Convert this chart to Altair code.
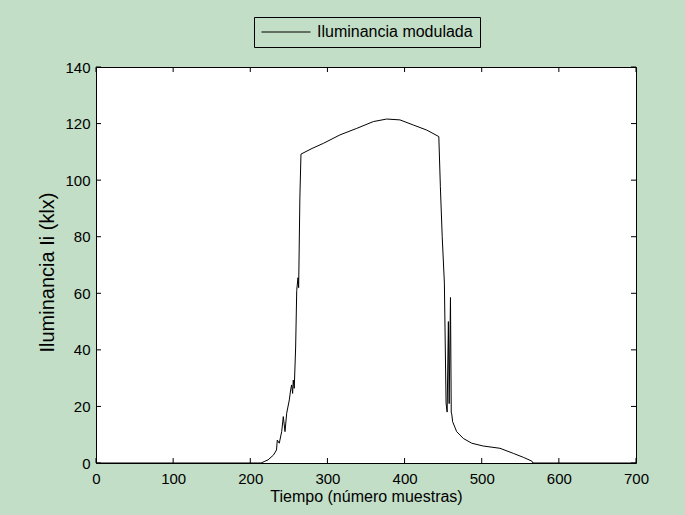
import altair as alt
import pandas as pd

# Time (sample number) and modulated illuminance (klx)
tiempo = [0, 214, 218, 223, 230, 234, 235, 237.6, 240.7, 242.8, 245, 247.2, 250.6,
          252.3, 253.6, 254.9, 255.7, 257, 258.8, 260.2, 261.8, 262.7, 264.3, 265.7,
          280, 294.7, 316.3, 338, 359.5, 376.8, 394, 411.3, 428.7, 444.4,
          446.4, 448.8, 451.6, 453.8, 455.2, 456.8, 457.8, 459.5, 460.5, 461.3, 462.3,
          467.5, 476.1, 487, 502, 523.7, 541, 554, 564.8, 566.5, 700]
iluminancia = [0, 0, 0.5, 1.1, 2.8, 4.6, 8.1, 7.0, 11.1, 16.4, 11.1, 17.6, 22.3,
               25.8, 27.6, 24.6, 29.3, 26.4, 41.0, 61.0, 65.5, 62.0, 94.0, 109.2,
               111.2, 113.0, 116.0, 118.3, 120.7, 121.6, 121.3, 119.5, 117.7, 115.4,
               97.7, 80.0, 63.6, 21.2, 18.0, 50.0, 21.0, 58.5, 18.0, 17.0, 14.6,
               11.1, 8.7, 7.0, 6.0, 5.2, 3.4, 2.0, 0.7, 0, 0]
serie = "Iluminancia modulada"

x_ticks = [0, 100, 200, 300, 400, 500, 600, 700]
y_ticks = [0, 20, 40, 60, 80, 100, 120, 140]

W, H = 540, 396
FONT = "Liberation Sans"
BG = "#c2dec6"

df = pd.DataFrame({"t": tiempo, "v": iluminancia, "serie": [serie] * len(tiempo)})
dfx = pd.DataFrame({"xt": x_ticks})
dfy = pd.DataFrame({"yt": y_ticks})

xscale = alt.Scale(domain=[0, 700], nice=False, zero=False)
yscale = alt.Scale(domain=[0, 140], nice=False, zero=False)

line = alt.Chart(df).mark_line(color="black", strokeWidth=1, clip=False).encode(
    x=alt.X("t:Q", scale=xscale,
            axis=alt.Axis(values=x_ticks, title="Tiempo (número muestras)",
                          labelFontSize=15, labelFont=FONT, labelColor="black",
                          labelPadding=8, labelFlush=False, tickSize=0, domain=False,
                          grid=False, titleFont=FONT, titleFontSize=16,
                          titleFontWeight="normal", titleColor="black",
                          titleBaseline="alphabetic", titleY=38, titleX=W / 2)),
    y=alt.Y("v:Q", scale=yscale,
            axis=alt.Axis(values=y_ticks, title="Iluminancia Ii (klx)",
                          labelFontSize=15, labelFont=FONT, labelColor="black",
                          labelPadding=6, labelFlush=False, tickSize=0, domain=False,
                          grid=False, titleFont=FONT, titleFontSize=20,
                          titleFontWeight="normal", titleColor="black",
                          titleBaseline="alphabetic", titleX=-43, titleY=205,
                          titleAngle=270)),
    color=alt.Color("serie:N", scale=alt.Scale(range=["black"]),
                    legend=alt.Legend(title=None, orient="none", legendX=158, legendY=-50,
                                      strokeColor="black", padding=7, clipHeight=16,
                                      symbolType="stroke", symbolSize=2401,
                                      symbolStrokeWidth=1, labelFontSize=16,
                                      labelFont=FONT, labelColor="black",
                                      labelOffset=6)),
)

tick_b = alt.Chart(dfx).mark_rule(color="black", strokeWidth=1).encode(
    x=alt.X("xt:Q", scale=xscale), y=alt.value(H), y2=alt.value(H - 5))
tick_t = alt.Chart(dfx).mark_rule(color="black", strokeWidth=1).encode(
    x=alt.X("xt:Q", scale=xscale), y=alt.value(0), y2=alt.value(5))
tick_l = alt.Chart(dfy).mark_rule(color="black", strokeWidth=1).encode(
    y=alt.Y("yt:Q", scale=yscale), x=alt.value(0), x2=alt.value(5))
tick_r = alt.Chart(dfy).mark_rule(color="black", strokeWidth=1).encode(
    y=alt.Y("yt:Q", scale=yscale), x=alt.value(W), x2=alt.value(W - 5))

chart = alt.layer(tick_b, tick_t, tick_l, tick_r, line).properties(
    width=W, height=H,
    autosize=alt.AutoSizeParams(type="none"),
    padding={"left": 96, "top": 67, "right": 49, "bottom": 52},
    background=BG,
).configure_view(stroke="black", strokeWidth=1, fill="white")

chart.save("out.html", embed_options={"renderer": "svg", "actions": False})
